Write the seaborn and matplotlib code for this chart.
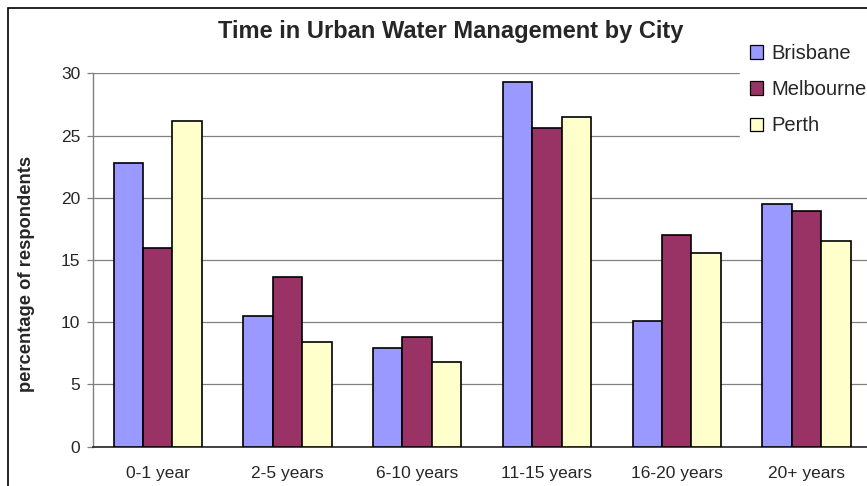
import matplotlib
matplotlib.use('Agg')
import matplotlib.pyplot as plt
import matplotlib.patches as mpatches
import numpy as np
import pandas as pd
import seaborn as sns

categories = ['0-1 year', '2-5 years', '6-10 years', '11-15 years', '16-20 years', '20+ years']
brisbane = [22.8, 10.5, 7.9, 29.3, 10.1, 19.5]
melbourne = [16.0, 13.6, 8.8, 25.6, 17.0, 18.9]
perth = [26.2, 8.4, 6.8, 26.5, 15.6, 16.5]
cities = ['Brisbane', 'Melbourne', 'Perth']
colors = ['#9999FF', '#993366', '#FFFFCC']

rows = []
for city, vals in zip(cities, [brisbane, melbourne, perth]):
    for cat, v in zip(categories, vals):
        rows.append({'period': cat, 'city': city, 'value': v})
df = pd.DataFrame(rows)

sns.set_style('white')
plt.rcParams['font.family'] = ['Liberation Sans', 'DejaVu Sans']

fig = plt.figure(figsize=(8.67, 4.86), dpi=100)
ax = fig.add_axes([0.107, 0.081, 0.898, 0.768])

sns.barplot(data=df, x='period', y='value', hue='city', order=categories,
            hue_order=cities, palette=colors, width=0.68, saturation=1,
            edgecolor='black', linewidth=1.2, errorbar=None, ax=ax, zorder=3)

ax.set_ylim(0, 30)
ax.set_xlim(-0.5, 5.5)
ax.set_yticks(np.arange(0, 31, 5))
ax.yaxis.grid(True, color='#808080', linewidth=0.9, zorder=0)
ax.set_axisbelow(True)

# ticks between categories like excel
ax.set_xticks(np.arange(0.5, 5.5, 1), minor=True)
ax.tick_params(axis='x', which='major', length=0, pad=14, labelsize=12.5)
ax.tick_params(axis='x', which='minor', length=4, width=0.9, color='#333333', direction='out')
ax.tick_params(axis='y', length=4, width=0.9, color='#808080', pad=5, labelsize=12.5, left=True)

for s in ['top', 'right']:
    ax.spines[s].set_visible(False)
ax.spines['left'].set_color('#808080')
ax.spines['bottom'].set_color('#222222')
ax.spines['left'].set_linewidth(1)
ax.spines['bottom'].set_linewidth(1.2)

ax.set_xlabel('')
ax.set_ylabel('percentage of respondents', fontsize=13.2, fontweight='bold')
ax.yaxis.set_label_coords(-0.074, 0.464)
ax.get_legend().remove()

fig.text(0.52, 0.936, 'Time in Urban Water Management by City', ha='center', va='center',
         fontsize=17, fontweight='bold')

handles = [mpatches.Patch(facecolor=c, edgecolor='black', linewidth=0.9) for c in colors]
fig.legend(handles, cities, loc='upper left', bbox_to_anchor=(740 / 867, 1 - 34 / 486),
           fontsize=14.5, frameon=True, facecolor='white', edgecolor='white', framealpha=1,
           fancybox=False, handlelength=0.65, handleheight=0.65, handletextpad=0.4,
           labelspacing=0.85, borderpad=0.5, borderaxespad=0)

# outer chart border
fig.patches.append(mpatches.Rectangle((7.5 / 867, -0.1), 1.2, 1.1 - 8.5 / 486, transform=fig.transFigure,
                                      fill=False, edgecolor='black', linewidth=1.2))

fig.savefig('out.png', dpi=100)
